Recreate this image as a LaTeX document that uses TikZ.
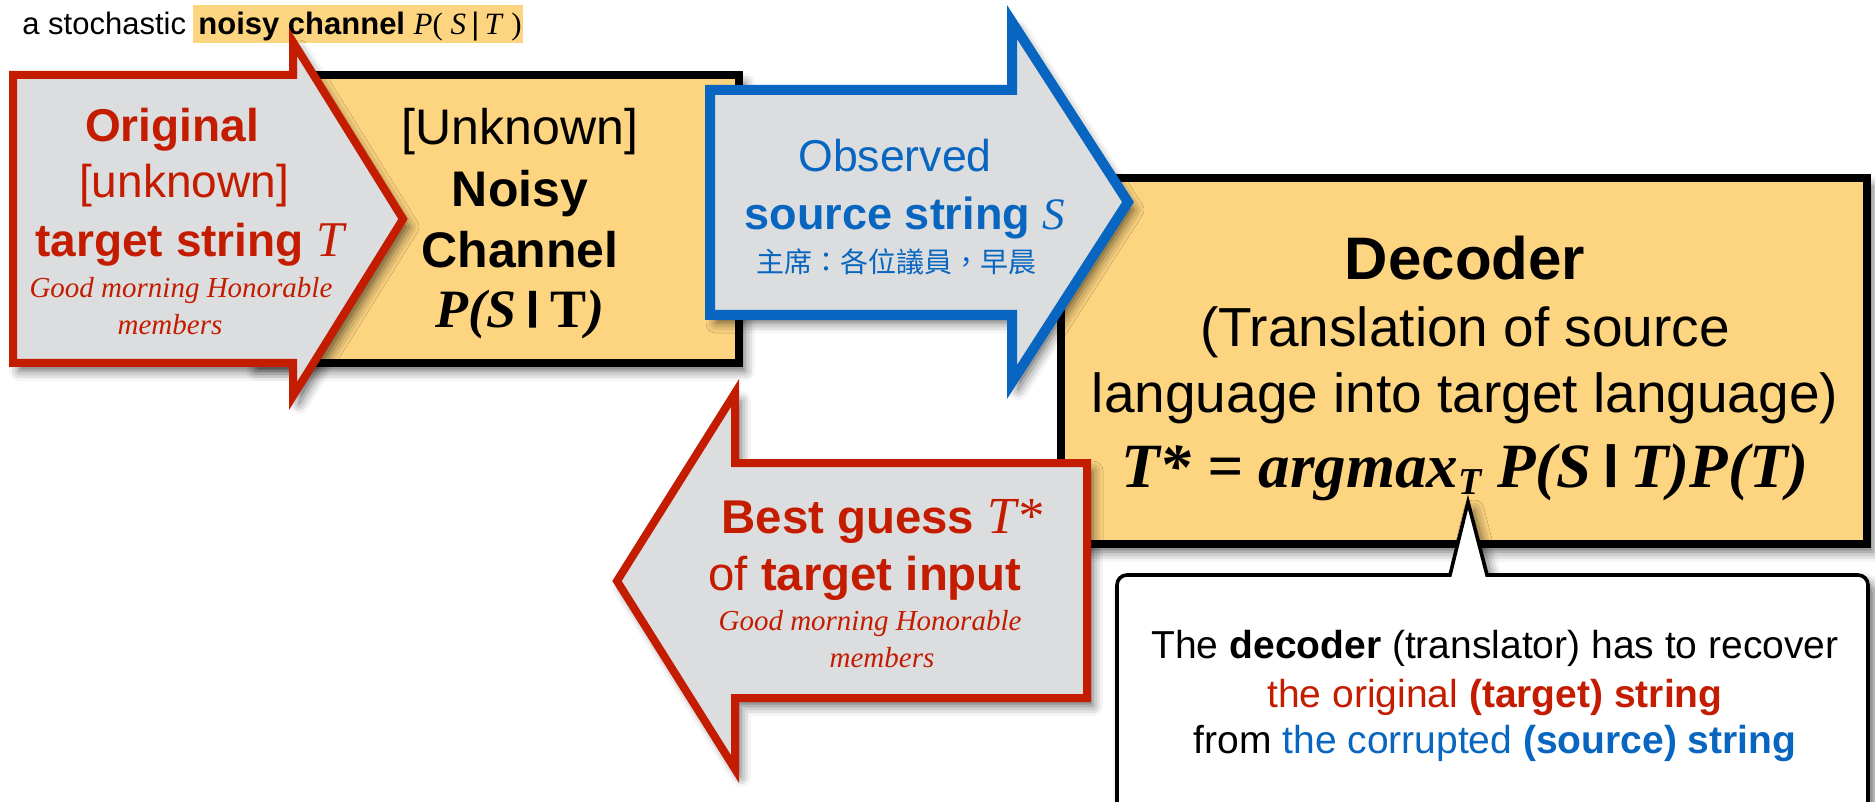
\documentclass[tikz,border=0pt]{standalone}
\usepackage{fontspec}
\setmainfont{Liberation Sans}
\newfontfamily\tms{Liberation Serif}
\newfontfamily\cjk{Noto Sans CJK TC}
\usetikzlibrary{shadows.blur}
\definecolor{boxyel}{RGB}{253,212,128}
\definecolor{arrgray}{RGB}{220,221,223}
\definecolor{myred}{RGB}{196,28,0}
\definecolor{myblue}{RGB}{8,102,192}
\newcommand{\setfs}[1]{\fontsize{#1}{#1}\selectfont}
\newcommand{\condbar}{\raisebox{0.15em}{\scalebox{1}[0.72]{\rmfamily\upshape\bfseries |}}}
\tikzset{
  shd/.style={blur shadow={shadow xshift=3pt,shadow yshift=-4pt,shadow blur radius=5pt,shadow opacity=60}},
  yelbox/.style={draw=black,line width=4pt,fill=boxyel,shd},
  redarr/.style={draw=myred,line width=4pt,fill=arrgray,shd},
  bluearr/.style={draw=myblue,line width=5pt,fill=arrgray,shd},
  calloutbox/.style={draw=black,line width=1.8pt,fill=white,shd},
  txt/.style={anchor=base,inner sep=0pt},
}
\begin{document}
\begin{tikzpicture}[x=0.5pt,y=-0.5pt]
\useasboundingbox (0,0) rectangle (1875,802);
% top line
\path[fill=boxyel] (193,5) rectangle (523,43);
\node[txt,anchor=base west] (top1) at (22,35) {\setfs{15.5pt}a stochastic};
\node[txt,anchor=base west] (top2) at (198,35) {\setfs{15.5pt}\textbf{noisy channel} {\tms\textit{P}( \textit{S}\,{\rmfamily\upshape|}\,\textit{T} )}};
% boxes
\path[yelbox] (250,75) rectangle (739,363);
\path[yelbox] (1061,178) rectangle (1867,544);
% red arrow 1
\path[redarr] (13,75) -- (293,75) -- (293,42) -- (403,219) -- (293,396) -- (293,363) -- (13,363) -- cycle;
% blue arrow
\path[bluearr] (710,90) -- (1012,90) -- (1012,22) -- (1128,202) -- (1012,382) -- (1012,315) -- (710,315) -- cycle;
% red arrow 2
\path[redarr] (1087,463) -- (735,463) -- (735,393) -- (617,581) -- (735,769) -- (735,698) -- (1087,698) -- cycle;
% callout
\path[calloutbox] (1117,840) [rounded corners=5pt] -- (1117,575) [sharp corners] -- (1450,575) -- (1468,502) -- (1487,575) [rounded corners=5pt] -- (1868,575) -- (1868,840);

% texts red arrow 1
\begin{scope}[myred]
\node[txt] (o1) at (172,142) {\setfs{23pt}\bfseries Original};
\node[txt] (o2) at (184,198) {\setfs{23pt}[unknown]};
\node[txt] (o3) at (190,257) {\setfs{23pt}\bfseries target string {\tms\itshape\mdseries\setfs{25pt}T}};
\node[txt] (o4) at (181,298) {\setfs{14.5pt}\tms\itshape Good morning Honorable};
\node[txt] (o5) at (170,335) {\setfs{14.5pt}\tms\itshape members};
\end{scope}
% noisy channel
\node[txt] (n1) at (520,145) {\setfs{25pt}[Unknown]};
\node[txt] (n2) at (520,207) {\setfs{25pt}\bfseries Noisy};
\node[txt] (n3) at (520,268) {\setfs{25pt}\bfseries Channel};
\node[txt] (n4) at (520,328) {\setfs{27pt}\tms\bfseries\itshape P(S\,\condbar\,{\upshape T})};
% blue arrow texts
\begin{scope}[myblue]
\node[txt] (b1) at (895,172) {\setfs{22.3pt}Observed};
\node[txt] (b2) at (905,230) {\setfs{22.5pt}\bfseries source string {\tms\itshape\mdseries S}};
\node[txt] (b3) at (896,273) {\setfs{14pt}\cjk 主席：各位議員，早晨};
\end{scope}
% decoder
\node[txt] (d1) at (1465,280) {\setfs{30pt}\bfseries Decoder};
\node[txt] (d2) at (1465,347) {\setfs{27.5pt}(Translation of source};
\node[txt] (d3) at (1465,413) {\setfs{27.5pt}language into target language)};
\node[txt] (d4) at (1465,487) {\setfs{31.5pt}\tms\bfseries\itshape T* = argmax\raisebox{-0.12em}{\setfs{19pt}T} P(S\,\condbar\,T)P(T)};
% red arrow 2 texts
\begin{scope}[myred]
\node[txt] (g1) at (882,533) {\setfs{23.7pt}\bfseries Best guess {\tms\itshape\mdseries\setfs{26pt}T*}};
\node[txt] (g2) at (865,590) {\setfs{23.7pt}of \textbf{target input}};
\node[txt] (g3) at (870,630) {\setfs{14.5pt}\tms\itshape Good morning Honorable};
\node[txt] (g4) at (882,667) {\setfs{14.5pt}\tms\itshape members};
\end{scope}
% callout texts
\node[txt] (c1) at (1495,658) {\setfs{19.5pt}The \textbf{decoder} (translator) has to recover};
\node[txt] (c2) at (1495,707) {\setfs{19.5pt}\color{myred}the original \textbf{(target) string}};
\node[txt] (c3) at (1495,753) {\setfs{19.5pt}from {\color{myblue}the corrupted \textbf{(source) string}}};
\end{tikzpicture}
\end{document}
